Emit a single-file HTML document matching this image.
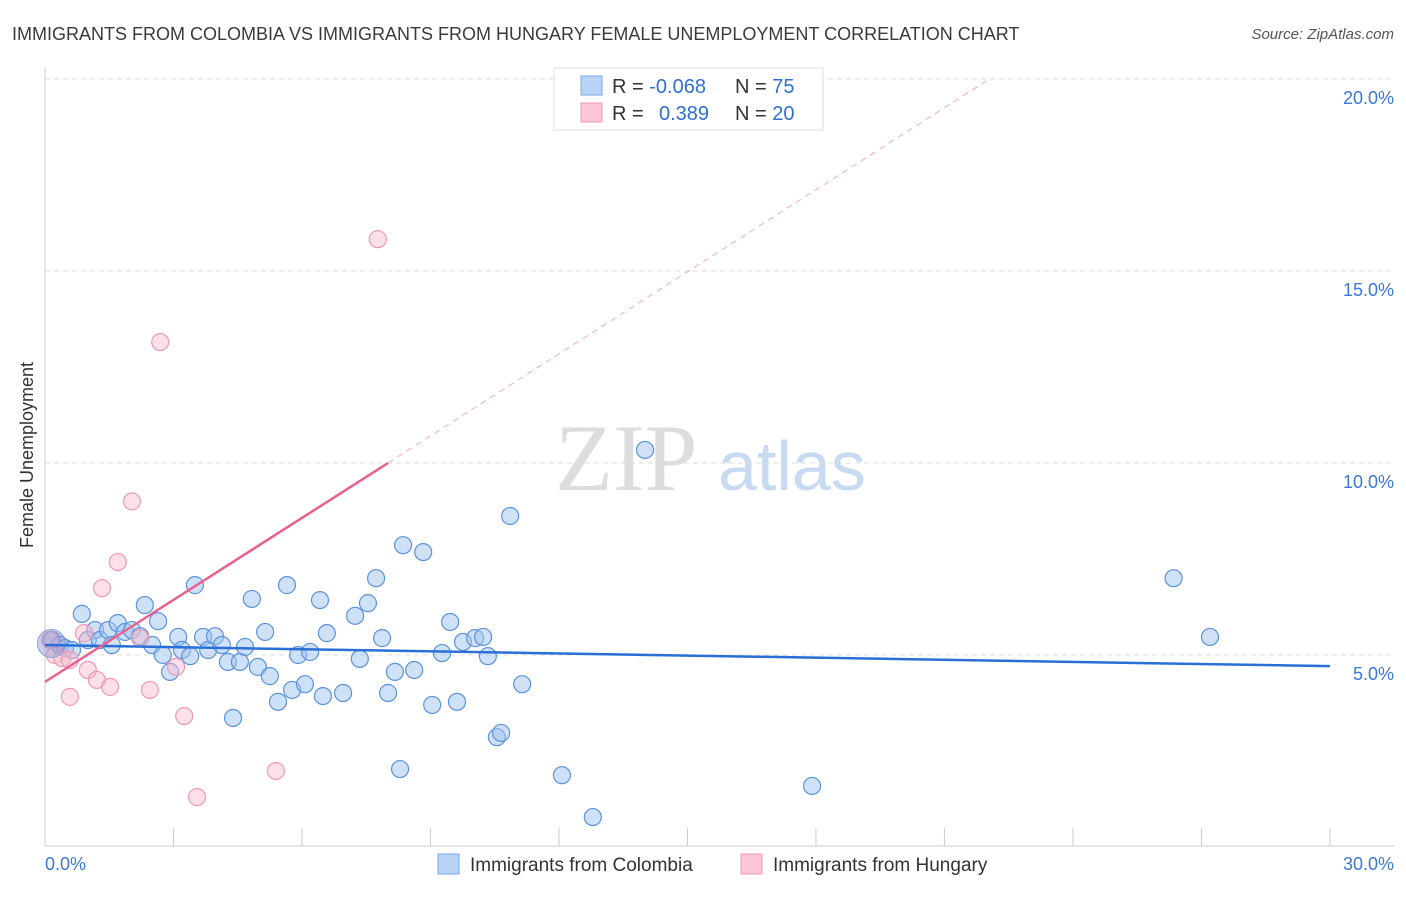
<!DOCTYPE html>
<html><head><meta charset="utf-8"><style>
body{margin:0;background:#fff;font-family:"Liberation Sans",sans-serif}
</style></head><body>
<svg width="1406" height="892" xmlns="http://www.w3.org/2000/svg" id="c" font-family="Liberation Sans, sans-serif">
<text x="12" y="40" font-size="18" fill="#3a3a3a">IMMIGRANTS FROM COLOMBIA VS IMMIGRANTS FROM HUNGARY FEMALE UNEMPLOYMENT CORRELATION CHART</text>
<text x="1394" y="39" font-size="15" fill="#555" text-anchor="end" font-style="italic">Source: ZipAtlas.com</text>
<text x="555" y="490" font-size="95" fill="#ddd" font-family="Liberation Serif, serif">ZIP</text>
<text x="718" y="490" font-size="70" fill="#c8daf2">atlas</text>
<text transform="translate(33,455) rotate(-90)" font-size="18" fill="#333" text-anchor="middle">Female Unemployment</text>
<g id="grid"></g><g id="pts"></g><g id="lines"></g>
<g>
<rect x="554" y="68" width="269" height="62" fill="#fff" stroke="#ddd"/>
<rect x="581" y="76" width="21" height="19" fill="#b8d3f5" stroke="#7aa7e6"/>
<rect x="581" y="103" width="21" height="19" fill="#fcc6d6" stroke="#f09ab5"/>
<text x="612" y="93" font-size="20" fill="#333">R = <tspan fill="#2f6fd4">-0.068</tspan><tspan x="735">N = </tspan><tspan fill="#2f6fd4">75</tspan></text>
<text x="612" y="120" font-size="20" fill="#333">R = <tspan x="659" fill="#2f6fd4">0.389</tspan><tspan x="735">N = </tspan><tspan fill="#2f6fd4">20</tspan></text>
</g>
<g>
<rect x="438" y="854" width="21" height="20" fill="#b8d3f5" stroke="#7aa7e6"/>
<text x="470" y="871" font-size="19" fill="#333">Immigrants from Colombia</text>
<rect x="741" y="854" width="21" height="20" fill="#fcc6d6" stroke="#f09ab5"/>
<text x="773" y="871" font-size="19" fill="#333">Immigrants from Hungary</text>
</g>
<text x="45" y="870" font-size="18" fill="#3b78d8">0.0%</text>
<text x="1394" y="870" font-size="18" fill="#3b78d8" text-anchor="end">30.0%</text>
</svg>
<script>
const yTicks=[5,10,15,20];
const xTicks=[0,3,6,9,12,15,18,21,24,27,30];
const colombiaX=[0.16,0.35,0.47,0.63,0.86,1.0,1.17,1.28,1.47,1.56,1.7,1.87,2.03,2.22,2.33,2.5,2.64,2.75,2.92,3.11,3.2,3.39,3.5,3.69,3.81,3.97,4.13,4.27,4.39,4.55,4.67,4.83,4.97,5.14,5.25,5.44,5.65,5.77,5.91,6.07,6.19,6.42,6.49,6.58,6.96,7.24,7.35,7.54,7.73,7.87,8.01,8.17,8.29,8.36,8.62,8.83,9.04,9.27,9.46,9.62,9.76,10.04,10.23,10.34,10.55,10.65,10.86,11.14,12.07,12.79,14.01,17.91,26.35,27.2];
const colombiaY=[5.39,5.26,5.18,5.13,6.07,5.39,5.65,5.39,5.65,5.26,5.83,5.6,5.65,5.49,6.3,5.26,5.88,5.0,4.56,5.47,5.13,4.97,6.82,5.47,5.13,5.49,5.26,4.82,3.36,4.82,5.21,6.46,4.69,5.6,4.45,3.78,6.82,4.09,5.0,4.24,5.08,6.43,3.93,5.57,4.01,6.02,4.9,6.35,7.0,5.44,4.01,4.56,2.03,7.86,4.61,7.68,3.7,5.05,5.86,3.78,5.34,5.44,5.47,4.97,2.86,2.97,8.62,4.24,1.87,0.78,10.34,1.59,7.0,5.47];
const hungaryX=[0.12,0.23,0.4,0.58,0.58,0.91,1.0,1.21,1.33,1.52,1.7,2.03,2.22,2.45,2.69,3.06,3.25,3.55,5.39,7.77];
const hungaryY=[5.39,5.0,4.92,4.87,3.91,5.57,4.61,4.35,6.74,4.17,7.42,9.0,5.44,4.09,13.15,4.69,3.41,1.3,1.98,15.83];
const colTrend=[[0,5.26],[30,4.71]];
const hunSolid=[[0,4.3],[8.01,10]];
const hunDash=[[8.01,10],[22.05,20]];
const X=v=>45+v*42.83, Y=v=>847-v*38.4;
const NS="http://www.w3.org/2000/svg";
function mk(t,a,p){const e=document.createElementNS(NS,t);for(const k in a)e.setAttribute(k,a[k]);p.appendChild(e);return e;}
const grid=document.getElementById('grid');
yTicks.forEach(t=>{
 const l=mk('line',{x1:45,x2:1394,y1:Y(t),y2:Y(t),stroke:'#ddd','stroke-dasharray':'5,4'},grid);
 
 
 const tx=mk('text',{x:1394,y:Y(t)+25,'font-size':18,fill:'#3b78d8','text-anchor':'end'},grid);
 tx.textContent=t.toFixed(1)+'%';
 
 
});
const ax=mk('line',{x1:45,x2:45,y1:68,y2:846,stroke:'#ccc'},grid);


const bx=mk('line',{x1:45,x2:1394,y1:846,y2:846,stroke:'#ccc'},grid);


xTicks.forEach(t=>{
 const l=mk('line',{x1:X(t),x2:X(t),y1:828,y2:846,stroke:'#ccc'},grid);
 
 
});
const pts=document.getElementById('pts');
colombiaX.forEach((v,i)=>{
 const c=mk('circle',{cx:X(v),cy:Y(colombiaY[i]),r:8.5,fill:'rgba(160,196,240,0.5)',stroke:'#5b93dd','stroke-width':1.2},pts);
 
 
});
hungaryX.forEach((v,i)=>{
 const c=mk('circle',{cx:X(v),cy:Y(hungaryY[i]),r:8.5,fill:'rgba(250,185,205,0.45)',stroke:'#ee9ab4','stroke-width':1.2},pts);
 
 
});
const big=mk('circle',{cx:X(0.15),cy:Y(5.3),r:14,fill:'rgba(140,150,210,0.45)',stroke:'#8fa0d8'},pts);


const lines=document.getElementById('lines');
const l1=mk('line',{x1:X(colTrend[0][0]),y1:Y(colTrend[0][1]),x2:X(colTrend[1][0]),y2:Y(colTrend[1][1]),stroke:'#2a6fd6','stroke-width':2.5},lines);


const l2=mk('line',{x1:X(hunSolid[0][0]),y1:Y(hunSolid[0][1]),x2:X(hunSolid[1][0]),y2:Y(hunSolid[1][1]),stroke:'#e8608f','stroke-width':2.5},lines);


const l3=mk('line',{x1:X(hunDash[0][0]),y1:Y(hunDash[0][1]),x2:X(hunDash[1][0]),y2:Y(hunDash[1][1]),stroke:'#eeaac0','stroke-width':1,'stroke-dasharray':'6,5'},lines);


</script>
</body></html>
